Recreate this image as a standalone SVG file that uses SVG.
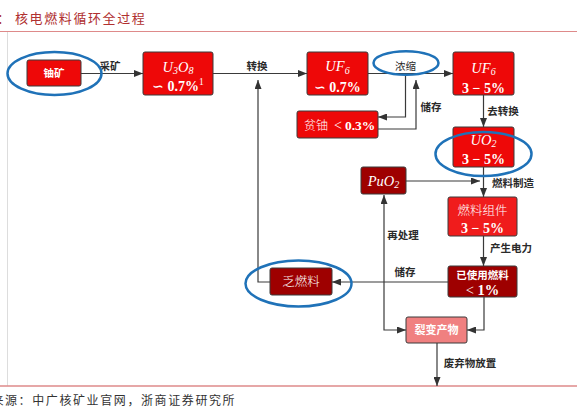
<svg xmlns="http://www.w3.org/2000/svg" width="577" height="415" viewBox="0 0 577 415">
<defs>
<style>
.box{stroke:#3a3a3a;stroke-width:1;}
.red{fill:#EE0808;}
.red2{fill:#F01C1C;}
.dark{fill:#9E0000;}
.pink{fill:#F08080;}
.ell{fill:none;stroke:#1F72B8;stroke-width:2.5;}
.conn{fill:none;stroke:#3a3a3a;stroke-width:1.2;}
.lbl{font-family:"Noto Sans CJK SC","Noto Sans",sans-serif;font-size:10.5px;font-weight:bold;fill:#2a2a2a;text-anchor:middle;}
.wcjk{font-family:"Noto Sans CJK SC",sans-serif;fill:#fff;text-anchor:middle;}
.math{font-family:"Liberation Serif","DejaVu Serif",serif;fill:#fff;text-anchor:middle;font-size:14.5px;}
.it{font-style:italic;}
.bd{font-weight:bold;font-size:14px;}
</style>
<marker id="ah" viewBox="0 0 10 10" refX="10" refY="5" markerWidth="9" markerHeight="7" markerUnits="userSpaceOnUse" orient="auto-start-reverse" preserveAspectRatio="none">
<path d="M0,0 L10,5 L0,10 z" fill="#333"/>
</marker>
</defs>
<rect width="577" height="415" fill="#fff"/>
<g id="frame">
<text x="-3" y="23" font-family="'Noto Sans CJK SC',sans-serif" font-size="13" fill="#B03030">：</text>
<text x="15" y="23" font-family="'Noto Sans CJK SC',sans-serif" font-size="13" letter-spacing="1.6" fill="#B03030">核电燃料循环全过程</text>
<line x1="0" y1="31.5" x2="577" y2="31.5" stroke="#DE8A8A" stroke-width="1.2"/>
<line x1="7.5" y1="32" x2="7.5" y2="386" stroke="#dddddd" stroke-width="1"/>
<line x1="0" y1="386" x2="577" y2="386" stroke="#DE8A8A" stroke-width="1.4"/>
<text x="-8.6" y="405" font-family="'Noto Sans CJK SC',sans-serif" font-size="12" letter-spacing="1.6" fill="#333">来源：中广核矿业官网，浙商证券研究所</text>
</g>
<g id="connectors">
<path class="conn" d="M81,73.5 H143" marker-end="url(#ah)"/>
<path class="conn" d="M213,73.5 H307" marker-end="url(#ah)"/>
<path class="conn" d="M270,282 H258 V80" marker-end="url(#ah)"/>
<path class="conn" d="M368,73.5 H453" marker-end="url(#ah)"/>
<path class="conn" d="M405.5,73.5 V117 H378" marker-end="url(#ah)"/>
<path class="conn" d="M378,129 H416 V80" marker-end="url(#ah)"/>
<path class="conn" d="M483.5,95 V127" marker-end="url(#ah)"/>
<path class="conn" d="M483.5,167 V197" marker-end="url(#ah)"/>
<path class="conn" d="M406,181 H480" marker-end="url(#ah)"/>
<path class="conn" d="M483.5,236 V266" marker-end="url(#ah)"/>
<path class="conn" d="M448,282 H332" marker-end="url(#ah)"/>
<path class="conn" d="M484,297 V330 H467" marker-end="url(#ah)"/>
<path class="conn" d="M384,195 V330 H406" marker-start="url(#ah)" marker-end="url(#ah)"/>
<path class="conn" d="M437,343 V386" marker-end="url(#ah)"/>
<text class="lbl" x="110" y="70">采矿</text>
<text class="lbl" x="257" y="70">转换</text>
<text class="lbl" x="431" y="111">储存</text>
<text class="lbl" x="503" y="115">去转换</text>
<text class="lbl" x="513" y="187">燃料制造</text>
<text class="lbl" x="403" y="239">再处理</text>
<text class="lbl" x="511" y="252">产生电力</text>
<text class="lbl" x="405" y="276">储存</text>
<text class="lbl" x="470" y="367">废弃物放置</text>
</g>
<g id="n-uranium">
<rect class="box red" x="27" y="60" width="54" height="26" rx="2"/>
<text class="wcjk" x="54" y="77" font-size="10.5" font-weight="bold">铀矿</text>
</g>
<g id="n-u3o8">
<rect class="box red" x="143" y="52" width="70" height="43" rx="2"/>
<text class="math it" x="178" y="71.5">U<tspan font-size="10" dy="2.5">3</tspan><tspan dy="-2.5">O</tspan><tspan font-size="10" dy="2.5">8</tspan></text>
<text class="math bd" x="178" y="91">∽ 0.7%<tspan font-size="9.5" dy="-6" font-weight="normal">1</tspan></text>
</g>
<g id="n-uf6a">
<rect class="box red" x="307" y="52" width="61" height="43" rx="2"/>
<text class="math it" x="337.5" y="71">UF<tspan font-size="10" dy="2.5">6</tspan></text>
<text class="math bd" x="337.5" y="92">∽ 0.7%</text>
</g>
<g id="n-enrich">
<text x="405.5" y="70" font-family="'Noto Sans CJK SC',sans-serif" font-size="10.5" fill="#2a2a2a" text-anchor="middle">浓缩</text>
</g>
<g id="n-depleted">
<rect class="box red" x="297" y="111" width="81" height="27" rx="2"/>
<text x="304" y="129.5" fill="#fff" font-size="13"><tspan font-family="'Noto Sans CJK SC',sans-serif" font-weight="300" font-size="12">贫铀</tspan><tspan font-family="'Liberation Serif',serif" dx="6" font-size="14">&lt;</tspan><tspan font-family="'Liberation Serif',serif" font-weight="bold" dx="3" font-size="13.5">0.3%</tspan></text>
</g>
<g id="n-uf6b">
<rect class="box red" x="453" y="52" width="61" height="43" rx="2"/>
<text class="math it" x="483.5" y="72.5">UF<tspan font-size="10" dy="2.5">6</tspan></text>
<text class="math bd" x="483.5" y="92.5">3 − 5%</text>
</g>
<g id="n-uo2">
<rect class="box red" x="453" y="127" width="61" height="40" rx="2"/>
<text class="math it" x="483.5" y="144.5">UO<tspan font-size="10" dy="2.5">2</tspan></text>
<text class="math bd" x="483.5" y="163.5">3 − 5%</text>
</g>
<g id="n-puo2">
<rect class="box dark" x="361" y="167" width="45" height="27" rx="2"/>
<text class="math it" x="383.5" y="185.5">PuO<tspan font-size="10" dy="2.5">2</tspan></text>
</g>
<g id="n-assembly">
<rect class="box red2" x="448" y="197" width="69" height="39" rx="2"/>
<text class="wcjk" x="482.5" y="214.5" font-size="12.5" font-weight="300">燃料组件</text>
<text class="math bd" x="482.5" y="232.5">3 − 5%</text>
</g>
<g id="n-spent">
<rect class="box dark" x="448" y="266" width="69" height="31" rx="2"/>
<text class="wcjk" x="482.5" y="279" font-size="10.5" font-weight="bold">已使用燃料</text>
<text class="math" x="482.5" y="294.5">&lt; <tspan font-weight="bold">1%</tspan></text>
</g>
<g id="n-depletedfuel">
<rect class="box dark" x="270" y="268" width="62" height="27" rx="2"/>
<text class="wcjk" x="301" y="286.3" font-size="12.5" font-weight="300">乏燃料</text>
</g>
<g id="n-fission">
<rect class="box pink" x="406" y="317" width="61" height="26" rx="2"/>
<text class="wcjk" x="436.5" y="334" font-size="11" font-weight="bold">裂变产物</text>
</g>
<g id="highlights">
<ellipse class="ell" cx="54.5" cy="73.5" rx="47" ry="21.5"/>
<ellipse class="ell" cx="406" cy="63" rx="32.5" ry="11.8"/>
<ellipse class="ell" cx="483.5" cy="154" rx="48" ry="22"/>
<ellipse class="ell" cx="298.5" cy="283.5" rx="53" ry="23"/>
</g>
</svg>
